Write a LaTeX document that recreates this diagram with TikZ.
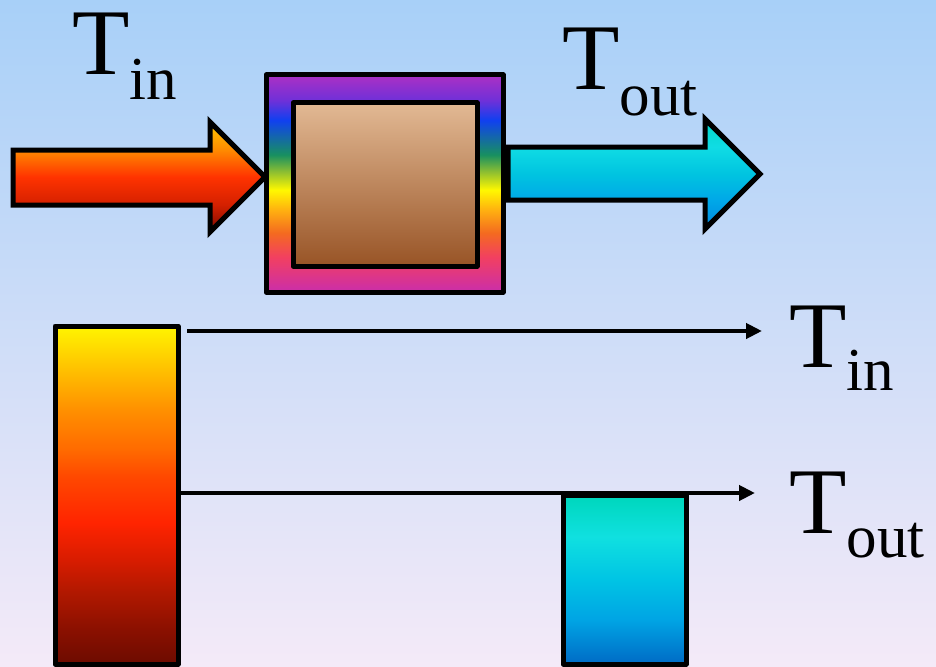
\documentclass[tikz,border=0pt]{standalone}
\usepackage{fontspec}
\setmainfont{Liberation Serif}
\usetikzlibrary{arrows.meta}

% colours
\definecolor{bgtop}{HTML}{A8D0F8}
\definecolor{bgmid}{HTML}{D4E0F2}
\definecolor{bgbot}{HTML}{F4EAF8}
\definecolor{ha1}{HTML}{FFC800}
\definecolor{ha2}{HTML}{FF8A00}
\definecolor{ha3}{HTML}{FF3300}
\definecolor{ha4}{HTML}{D42000}
\definecolor{ha5}{HTML}{7A0A00}
\definecolor{ca1}{HTML}{00D8C8}
\definecolor{ca2}{HTML}{10DCE4}
\definecolor{ca3}{HTML}{00C4E0}
\definecolor{ca4}{HTML}{00A8E8}
\definecolor{ca5}{HTML}{0088E0}
\definecolor{rb1}{HTML}{A830C0}
\definecolor{rb2}{HTML}{A030C8}
\definecolor{rb3}{HTML}{7030D8}
\definecolor{rb4}{HTML}{1040F0}
\definecolor{rb5}{HTML}{189060}
\definecolor{rb6}{HTML}{90C030}
\definecolor{rb7}{HTML}{FFF800}
\definecolor{rb8}{HTML}{FFB010}
\definecolor{rb9}{HTML}{F46A20}
\definecolor{rb10}{HTML}{F24060}
\definecolor{rb11}{HTML}{D030A0}
\definecolor{rb12}{HTML}{C830A8}
\definecolor{brtop}{HTML}{E2B994}
\definecolor{brmid}{HTML}{D39A6C}
\definecolor{brbot}{HTML}{985426}
\definecolor{hb1}{HTML}{FFF000}
\definecolor{hb2}{HTML}{FFC000}
\definecolor{hb3}{HTML}{FF9000}
\definecolor{hb4}{HTML}{FF6A00}
\definecolor{hb5}{HTML}{FF4800}
\definecolor{hb6}{HTML}{FF2400}
\definecolor{hb7}{HTML}{D81C00}
\definecolor{hb8}{HTML}{B01800}
\definecolor{hb9}{HTML}{8A1000}
\definecolor{hb10}{HTML}{700C00}
\definecolor{cb1}{HTML}{00D8C0}
\definecolor{cb2}{HTML}{10E0E0}
\definecolor{cb3}{HTML}{00C4E4}
\definecolor{cb4}{HTML}{00A4E4}
\definecolor{cb5}{HTML}{0070C8}

% shadings (25bp = bottom, 75bp = top of the path)
\pgfdeclareverticalshading{hotarrow}{100bp}{color(0bp)=(ha5); color(25bp)=(ha5); color(37.3bp)=(ha4); color(50bp)=(ha3); color(62.3bp)=(ha2); color(75bp)=(ha1); color(100bp)=(ha1)}
\pgfdeclareverticalshading{coldarrow}{100bp}{color(0bp)=(ca5); color(25bp)=(ca5); color(38.2bp)=(ca4); color(50bp)=(ca3); color(62.3bp)=(ca2); color(75bp)=(ca1); color(100bp)=(ca1)}
\pgfdeclareverticalshading{rainbow}{100bp}{color(0bp)=(rb12); color(25bp)=(rb12); color(26.15bp)=(rb11); color(33.1bp)=(rb10); color(38.6bp)=(rb9); color(43.9bp)=(rb8); color(48.5bp)=(rb7); color(52.6bp)=(rb6); color(56.6bp)=(rb5); color(64.6bp)=(rb4); color(69.2bp)=(rb3); color(73.85bp)=(rb2); color(75bp)=(rb1); color(100bp)=(rb1)}
\pgfdeclareverticalshading{hotbar}{100bp}{color(0bp)=(hb10); color(25bp)=(hb10); color(25.6bp)=(hb10); color(30bp)=(hb9); color(35.5bp)=(hb8); color(40.4bp)=(hb7); color(45.9bp)=(hb6); color(52.7bp)=(hb5); color(56.7bp)=(hb4); color(62.6bp)=(hb3); color(68.5bp)=(hb2); color(74.4bp)=(hb1); color(100bp)=(hb1)}
\pgfdeclareverticalshading{coldbar}{100bp}{color(0bp)=(cb5); color(25bp)=(cb5); color(26.2bp)=(cb5); color(38bp)=(cb4); color(49.9bp)=(cb3); color(62.6bp)=(cb2); color(73.5bp)=(cb1); color(100bp)=(cb1)}

\newcommand{\tsub}[2]{{\fontsize{94}{94}\selectfont T}\raisebox{-#2pt}{\fontsize{61}{61}\selectfont #1}}

\tikzset{
  outline/.style={draw=black,line width=5pt,line join=round},
  flow/.style={line width=4pt,-{Triangle[length=16pt,width=15pt]}},
  tlabel/.style={inner sep=0pt,anchor=base west,text=black},
}

\begin{document}
\begin{tikzpicture}[x=1pt,y=-1pt]
\useasboundingbox (0,0) rectangle (936,666);
\shade[top color=bgtop,middle color=bgmid,bottom color=bgbot] (0,0) rectangle (936,666);

% heat exchanger
\shade[shading=rainbow,outline] (266,75) rectangle (503,292);
\shade[top color=brtop,middle color=brmid,bottom color=brbot,outline] (293,103) rectangle (477,266);

% inlet and outlet arrows
\shade[shading=hotarrow,outline,line join=miter] (13,150) -- (210,150) -- (210,122) -- (265,177)
  -- (210,232) -- (210,205) -- (13,205) -- cycle;
\shade[shading=coldarrow,outline,line join=miter] (508,147) -- (705,147) -- (705,119) -- (760,174)
  -- (705,229) -- (705,200) -- (508,200) -- cycle;

% temperature bars
\shade[shading=hotbar,outline] (55,326) rectangle (178,664);
\shade[shading=coldbar,outline] (563,495) rectangle (686,664);

% labels
\node[tlabel] (tinTop) at (72,75) {\tsub{in}{25}};
\node[tlabel] (toutTop) at (562,90) {\tsub{out}{25}};
\node[tlabel] (tinLow) at (789,367) {\tsub{in}{23}};
\node[tlabel] (toutLow) at (789,533) {\tsub{out}{24}};

% levels
\coordinate (inStart) at (187,331);
\coordinate (inEnd) at (762,331);
\coordinate (outStart) at (180,493);
\coordinate (outEnd) at (755,493);
\draw[flow] (inStart) -- (inEnd);
\draw[flow] (outStart) -- (outEnd);
\end{tikzpicture}
\end{document}
